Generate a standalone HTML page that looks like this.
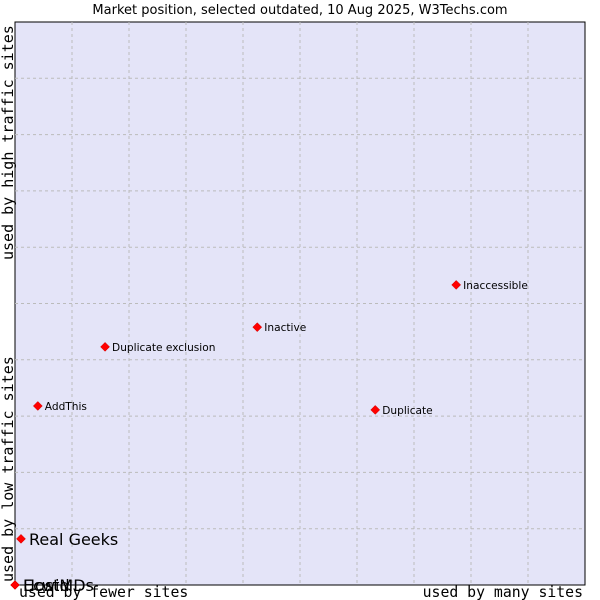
<!DOCTYPE html>
<html><head><meta charset="utf-8"><style>body{margin:0;background:#fff}svg{display:block}</style></head>
<body>
<svg id="chart" width="600" height="600" xmlns="http://www.w3.org/2000/svg">
<text x="300" y="14" text-anchor="middle" font-family="DejaVu Sans, sans-serif" font-size="13">Market position, selected outdated, 10 Aug 2025, W3Techs.com</text>
<rect x="15" y="22" width="570" height="563" fill="#e4e4f8" stroke="#000" stroke-width="1"/>
<g id="grid"></g>
<g id="marks"></g>
<text transform="translate(13,260) rotate(-90)" font-family="DejaVu Sans Mono, monospace" font-size="15">used by high traffic sites</text>
<text transform="translate(13,582) rotate(-90)" font-family="DejaVu Sans Mono, monospace" font-size="15">used by low traffic sites</text>
<text x="19" y="597" font-family="DejaVu Sans Mono, monospace" font-size="14.8">used by fewer sites</text>
<text x="583" y="597" text-anchor="end" font-family="DejaVu Sans Mono, monospace" font-size="14.8">used by many sites</text>
</svg>
<script>
const names = ["HostMDs","Ecwid","Real Geeks","AddThis","Duplicate exclusion","Inactive","Duplicate","Inaccessible"];
const xValues = [0,0,1.05,4.0,15.8,42.5,63.2,77.4];
const yValues = [0,0,8.2,31.8,42.3,45.8,31.1,53.3];
const bigLabel = [true,true,true,false,false,false,false,false];
const L=15,T=22,W=570,H=563;
const sx=v=>L+v/100*W, sy=v=>T+H-v/100*H;
const NS="http://www.w3.org/2000/svg";
const grid=document.getElementById('grid'), marks=document.getElementById('marks');
for(let i=1;i<10;i++){
  const v=document.createElementNS(NS,'line');
  
  
  v.setAttribute('x1',sx(i*10));v.setAttribute('x2',sx(i*10));v.setAttribute('y1',T);v.setAttribute('y2',T+H);
  v.setAttribute('stroke','#bbb');v.setAttribute('stroke-dasharray','3,3');grid.appendChild(v);
  const h=document.createElementNS(NS,'line');
  
  
  h.setAttribute('x1',L);h.setAttribute('x2',L+W);h.setAttribute('y1',sy(i*10));h.setAttribute('y2',sy(i*10));
  h.setAttribute('stroke','#bbb');h.setAttribute('stroke-dasharray','3,3');grid.appendChild(h);
}
names.forEach((n,i)=>{
  const x=sx(xValues[i]),y=sy(yValues[i]);
  const p=document.createElementNS(NS,'path');
  
  
  p.setAttribute('d',`M${x} ${y-4.5}L${x+4.5} ${y}L${x} ${y+4.5}L${x-4.5} ${y}Z`);
  p.setAttribute('fill','#f00');p.setAttribute('stroke','#c00');p.setAttribute('stroke-width','0.5');
  marks.appendChild(p);
  const t=document.createElementNS(NS,'text');
  
  
  t.setAttribute('x',x+(bigLabel[i]?8:7));t.setAttribute('y',y+(bigLabel[i]?6:4));
  t.setAttribute('font-family','DejaVu Sans, sans-serif');t.setAttribute('font-size',bigLabel[i]?'16':'10.6');
  t.textContent=n;marks.appendChild(t);
});
</script>
</body></html>
